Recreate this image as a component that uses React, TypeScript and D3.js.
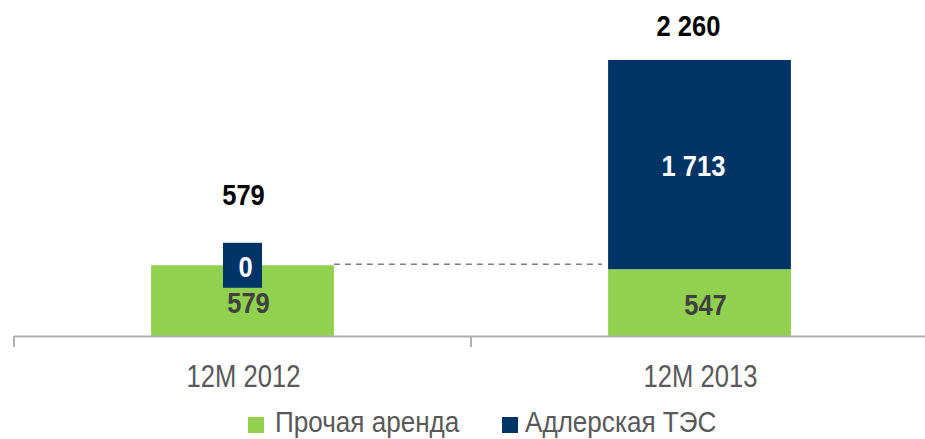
import React from "react";
import * as d3 from "d3";

const categories = ["12M 2012", "12M 2013"];
const otherRent = [579, 547];
const adlerTPP = [0, 1713];
const totals = [579, 2260];
const seriesNames = ["Прочая аренда", "Адлерская ТЭС"];

const W = 925;
const H = 439;
const GREEN = "#92D050";
const NAVY = "#003366";
const FONT = "'Liberation Sans', Arial, sans-serif";

const fmt = (v: number) => {
  const s = String(Math.round(v));
  return s.replace(/\B(?=(\d{3})+(?!\d))/g, " ");
};

function T(props: {
  x: number;
  y: number;
  sx: number;
  size: number;
  fill: string;
  bold?: boolean;
  anchor?: string;
  children: React.ReactNode;
}) {
  return (
    <text
      transform={`translate(${props.x},${props.y}) scale(${props.sx},1)`}
      textAnchor={props.anchor || "middle"}
      fontFamily={FONT}
      fontWeight={props.bold ? "bold" : "normal"}
      fontSize={props.size}
      fill={props.fill}
    >
      {props.children}
    </text>
  );
}

export default function App() {
  const x = d3.scaleBand<string>().domain(categories).range([14, 928]).padding(0);
  const y = d3.scaleLinear().domain([0, 2260]).range([336, 60]);
  const bw = x.bandwidth() * 0.4;

  return (
    <svg width={W} height={H} style={{ position: "absolute", left: 0, top: 0 }}>
      <rect width={W} height={H} fill="#fff" />
      {categories.map((c, i) => {
        const cx = x(c)! + x.bandwidth() / 2;
        const x0 = cx - bw / 2;
        const gTop = y(otherRent[i]);
        const nTop = y(otherRent[i] + adlerTPP[i]);
        return (
          <g key={c}>
            <rect x={x0} y={gTop} width={bw} height={y(0) - gTop} fill={GREEN} />
            {adlerTPP[i] > 0 && (
              <rect x={x0} y={nTop} width={bw} height={gTop - nTop} fill={NAVY} />
            )}
          </g>
        );
      })}
      {/* dashed connector */}
      <line
        x1={x(categories[0])! + x.bandwidth() / 2 + bw / 2}
        x2={x(categories[1])! + x.bandwidth() / 2 - bw / 2 - 6}
        y1={y(otherRent[0]) - 1}
        y2={y(otherRent[0]) - 1}
        stroke="#7f7f7f"
        strokeWidth={1.5}
        strokeDasharray="6,5"
      />
      {/* axis */}
      <line x1={14} x2={W} y1={336.5} y2={336.5} stroke="#b0b0b0" strokeWidth={2} />
      {[14, 471, 928].map((t) => (
        <line key={t} x1={t} x2={t} y1={336} y2={347} stroke="#b0b0b0" strokeWidth={2} />
      ))}
      {categories.map((c) => (
        <T key={c} x={x(c)! + x.bandwidth() / 2 + 1} y={387} sx={0.8} size={32} fill="#595959">
          {c}
        </T>
      ))}
      {/* labels */}
      {categories.map((c, i) => {
        const cx = x(c)! + x.bandwidth() / 2;
        const gTop = y(otherRent[i]);
        const nTop = y(otherRent[i] + adlerTPP[i]);
        const gMid = (gTop + y(0)) / 2;
        const nMid = (nTop + gTop) / 2;
        return (
          <g key={"l" + c}>
            <T x={cx + 6} y={gMid + 12} sx={0.85} size={30} bold fill="#404040">
              {fmt(otherRent[i])}
            </T>
            {adlerTPP[i] === 0 ? (
              <g>
                <rect x={cx - 19.5} y={gTop - 22.5} width={39} height={45} fill={NAVY} />
                <T x={cx + 3} y={gTop + 12} sx={0.85} size={30} bold fill="#fff">
                  {fmt(adlerTPP[i])}
                </T>
              </g>
            ) : (
              <T x={cx - 6} y={nMid + 11} sx={0.85} size={30} bold fill="#fff">
                {fmt(adlerTPP[i])}
              </T>
            )}
            <T
              x={cx + (adlerTPP[i] === 0 ? 1 : -11)}
              y={y(totals[i]) - (adlerTPP[i] === 0 ? 60 : 24)}
              sx={0.85}
              size={30}
              bold
              fill="#000"
            >
              {fmt(totals[i])}
            </T>
          </g>
        );
      })}
      {/* legend */}
      {seriesNames.map((s, i) => {
        const lx = i === 0 ? 248 : 502;
        return (
          <g key={s}>
            <rect x={lx} y={417} width={16} height={16} fill={i === 0 ? GREEN : NAVY} />
            <T x={lx + 27 - (i === 0 ? 0 : 4)} y={432} sx={0.9} size={29} anchor="start" fill="#595959">
              {s}
            </T>
          </g>
        );
      })}
    </svg>
  );
}
